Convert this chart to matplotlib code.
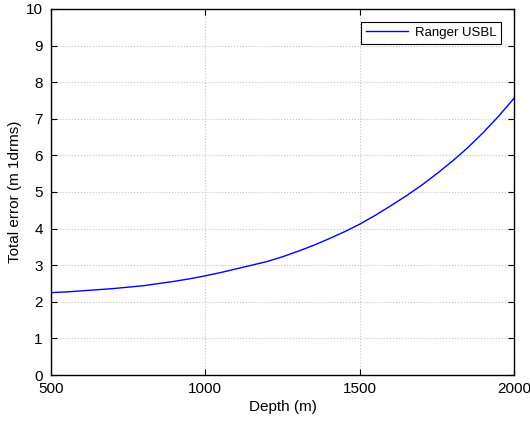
import numpy as np
import matplotlib.pyplot as plt

plt.rcParams['font.family'] = ['Liberation Sans', 'DejaVu Sans']

# depth (m) and total error (m 1drms)
depth = [500, 550, 600, 650, 700, 750, 800, 850, 900, 950,
         1000, 1050, 1100, 1150, 1200, 1250, 1300, 1350, 1400, 1450,
         1500, 1550, 1600, 1650, 1700, 1750, 1800, 1850, 1900, 1950, 2000]
error = [2.25, 2.27, 2.30, 2.33, 2.36, 2.40, 2.44, 2.50, 2.56, 2.63,
         2.71, 2.80, 2.90, 3.00, 3.10, 3.23, 3.38, 3.54, 3.72, 3.91,
         4.12, 4.36, 4.62, 4.89, 5.18, 5.50, 5.84, 6.21, 6.62, 7.07, 7.56]

x_ticks = [500, 1000, 1500, 2000]
y_ticks = list(range(0, 11))

fig = plt.figure(figsize=(5.30, 4.23), dpi=100)
ax = fig.add_axes([51 / 530, 48 / 423, 463 / 530, 366 / 423])

ax.plot(depth, error, color='#0000ff', linewidth=1.0, label='Ranger USBL')

ax.set_xlim(500, 2000)
ax.set_ylim(0, 10)
ax.set_xticks(x_ticks)
ax.set_yticks(y_ticks)
ax.tick_params(direction='in', top=True, right=True, length=4.5, labelsize=11)
ax.tick_params(axis='y', pad=6)
ax.tick_params(axis='x', pad=5)
ax.grid(True, color='#c4c4c4', linestyle=':', linewidth=0.8)
for s in ax.spines.values():
    s.set_linewidth(1.0)

ax.set_xlabel('Depth (m)', fontsize=11, labelpad=3)
ax.set_ylabel('Total error (m 1drms)', fontsize=11, labelpad=3)

leg = ax.legend(loc='upper right', fontsize=9.5, fancybox=False, framealpha=1,
                edgecolor='black', borderaxespad=1.0, handlelength=3.2,
                borderpad=0.35, handletextpad=0.5)
leg.get_frame().set_linewidth(0.8)

fig.savefig('out.png', dpi=100)
